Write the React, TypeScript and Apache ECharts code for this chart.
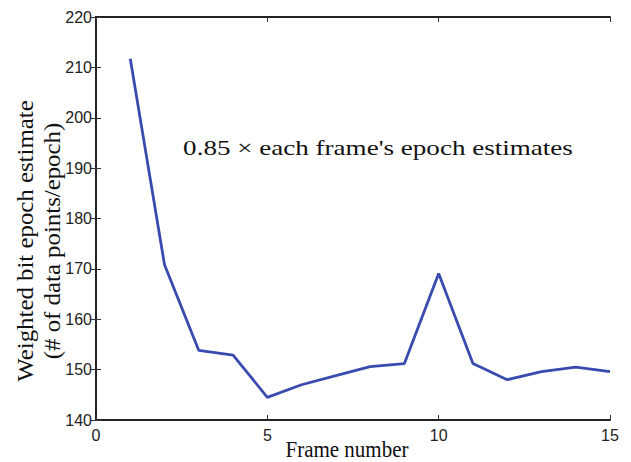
import React, { useEffect, useRef } from "react";
import * as echarts from "echarts";

const frames = [1, 2, 3, 4, 5, 6, 7, 8, 9, 10, 11, 12, 13, 14, 15];
const estimates = [211.7, 170.8, 153.8, 152.9, 144.5, 147.0, 148.8, 150.6, 151.2, 169.1, 151.2, 148.0, 149.6, 150.5, 149.6];
const xTicks = { min: 0, max: 15, step: 5 };
const yTicks = { min: 140, max: 220, step: 10 };
const xTitle = "Frame number";
const yTitle = "Weighted bit epoch estimate\n(# of data points/epoch)";
const note = "0.85 \u00d7 each frame's epoch estimates";

export default function App() {
  const ref = useRef<HTMLDivElement>(null);
  useEffect(() => {
    if (!ref.current) return;
    const chart = echarts.init(ref.current, null, { renderer: "svg" });
    const axisLine = { show: true, lineStyle: { color: "#222", width: 1.8 } };
    const tick = { show: true, inside: true, length: 5, lineStyle: { color: "#333", width: 1 } };
    const labelStyle = { fontFamily: "'Liberation Sans', Arial", fontSize: 16, color: "#222" };
    const serif = "'Liberation Serif', 'Times New Roman'";
    chart.setOption({
      animation: false,
      grid: { left: 96, right: 21, top: 17, bottom: 42, containLabel: false, outerBoundsMode: "none" },
      xAxis: [
        {
          type: "value", min: xTicks.min, max: xTicks.max, interval: xTicks.step,
          axisLine, axisTick: tick, splitLine: { show: false },
          axisLabel: { ...labelStyle, margin: 7 },
        },
        {
          type: "value", position: "top", min: xTicks.min, max: xTicks.max, interval: xTicks.step,
          axisLine, axisTick: tick, axisLabel: { show: false }, splitLine: { show: false },
        },
      ],
      yAxis: [
        {
          type: "value", min: yTicks.min, max: yTicks.max, interval: yTicks.step,
          axisLine, axisTick: tick, splitLine: { show: false },
          axisLabel: { ...labelStyle, margin: 4 },
        },
        {
          type: "value", position: "right", min: yTicks.min, max: yTicks.max, interval: yTicks.step,
          axisLine, axisTick: tick, axisLabel: { show: false }, splitLine: { show: false },
        },
      ],
      graphic: [
        {
          type: "text", x: 378, y: 147, scaleX: 1.23,
          style: { text: note, font: `22px ${serif}`, fill: "#111", align: "center", verticalAlign: "middle" },
        },
        {
          type: "text", x: 347, y: 449, scaleY: 1.1,
          style: { text: xTitle, font: `21px ${serif}`, fill: "#111", align: "center", verticalAlign: "middle" },
        },
        {
          type: "text", x: 39, y: 241, rotation: Math.PI / 2, scaleX: 1.08,
          style: { text: yTitle, font: `23px ${serif}`, lineHeight: 27, fill: "#111", align: "center", verticalAlign: "middle" },
        },
      ],
      series: [
        {
          type: "line",
          data: frames.map((f, i) => [f, estimates[i]]),
          showSymbol: false,
          lineStyle: { color: "#3a4bb0", width: 2.8 },
          itemStyle: { color: "#3a4bb0" },
        },
      ],
    });
    return () => chart.dispose();
  }, []);
  return <div ref={ref} style={{ width: 631, height: 462, position: "absolute", left: 0, top: 0 }} />;
}
